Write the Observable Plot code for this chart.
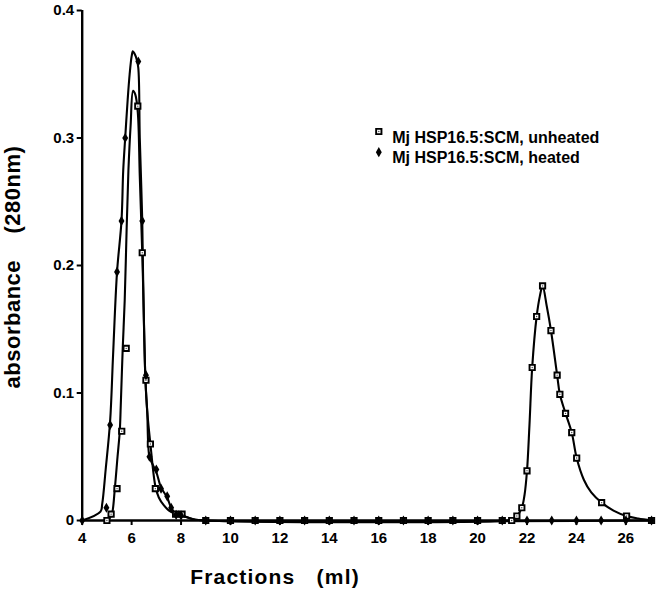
<!DOCTYPE html>
<html>
<head>
<meta charset="utf-8">
<script src="https://cdn.jsdelivr.net/npm/d3@7"></script>
<script src="https://cdn.jsdelivr.net/npm/@observablehq/plot@0.6"></script>
<style>
  html, body { margin: 0; padding: 0; background: #fff; }
  #chart svg { display: block; }
</style>
</head>
<body>
<div id="chart"></div>
<script>
// ---- tick labels ----
const xTicks = [4, 6, 8, 10, 12, 14, 16, 18, 20, 22, 24, 26];
const yTicks = [0, 0.1, 0.2, 0.3, 0.4];
const seriesNames = ["Mj HSP16.5:SCM, unheated", "Mj HSP16.5:SCM, heated"];
const xTitle = "Fractions   (ml)";
const yTitle = "absorbance    (280nm)";

// ---- measured points: unheated (open squares) ----
const unheatedX = [5.0, 5.17, 5.41, 5.6, 5.78, 6.25, 6.43, 6.58, 6.76, 6.96, 7.78, 8.04,
  9, 10, 11, 12, 13, 14, 15, 16, 17, 18, 19, 20, 21,
  21.38, 21.59, 21.79, 22.0, 22.21, 22.39, 22.63, 22.97, 23.22, 23.33, 23.56, 23.81, 24.01, 25.02, 26.03, 27.04];
const unheatedY = [0, 0.005, 0.025, 0.07, 0.135, 0.325, 0.21, 0.11, 0.06, 0.025, 0.005, 0.005,
  0, 0, 0, 0, 0, 0, 0, 0, 0, 0, 0, 0, 0,
  0, 0.0035, 0.01, 0.039, 0.12, 0.16, 0.184, 0.149, 0.114, 0.099, 0.084, 0.069, 0.049, 0.014, 0.0035, 0];

// ---- measured points: heated (filled diamonds) ----
const heatedX = [4, 4.98, 5.13, 5.41, 5.59, 5.74, 6.27, 6.43, 6.58, 6.72, 7.0, 7.19, 7.44, 7.6, 7.8, 8.0,
  9, 10, 11, 12, 13, 14, 15, 16, 17, 18, 19, 20, 21, 22, 23, 24, 25, 26, 27.04];
const heatedY = [0, 0.01, 0.075, 0.195, 0.235, 0.30, 0.36, 0.235, 0.114, 0.05, 0.04, 0.025, 0.019, 0.01, 0.0045, 0.004,
  0, 0, 0, 0, 0, 0, 0, 0, 0, 0, 0, 0, 0, 0, 0, 0, 0, 0, 0];

// ---- fitted curves ----
const unheatedFitX = [5.0, 5.12, 5.21, 5.32, 5.43, 5.52, 5.56, 5.64, 5.72, 5.8, 5.87, 5.96, 6.06, 6.15, 6.25, 6.33, 6.43, 6.48, 6.56, 6.63, 6.76, 6.96, 7.1, 7.3, 7.5, 7.8, 8.04, 8.5, 9,
  21.2, 21.4, 21.59, 21.79, 21.9, 22.0, 22.1, 22.21, 22.39, 22.52, 22.63, 22.8, 22.97, 23.22, 23.33, 23.56, 23.81, 24.01, 24.3, 24.6, 25.02, 25.5, 26.03, 26.5, 27.04];
const unheatedFitY = [0, 0.002, 0.0055, 0.025, 0.05, 0.07, 0.09, 0.135, 0.1725, 0.23, 0.2745, 0.31, 0.337, 0.334, 0.32, 0.27, 0.21, 0.1725, 0.11, 0.086, 0.06, 0.027, 0.018, 0.012, 0.008, 0.005, 0.004, 0.001, 0,
  0, 0.001, 0.0035, 0.01, 0.02, 0.039, 0.075, 0.12, 0.16, 0.176, 0.184, 0.168, 0.149, 0.114, 0.099, 0.084, 0.069, 0.049, 0.032, 0.022, 0.014, 0.0078, 0.0035, 0.0015, 0];
const heatedFitX = [4, 4.74, 4.81, 4.95, 5.13, 5.25, 5.41, 5.59, 5.66, 5.74, 5.84, 5.92, 6.0, 6.05, 6.12, 6.2, 6.27, 6.33, 6.43, 6.48, 6.56, 6.63, 6.72, 6.85, 7.0, 7.19, 7.44, 7.6, 7.8, 8.0, 8.5, 9, 27.04];
const heatedFitY = [0, 0.007, 0.013, 0.04, 0.078, 0.13, 0.195, 0.235, 0.2745, 0.30, 0.33, 0.35, 0.364, 0.368, 0.366, 0.362, 0.355, 0.3, 0.235, 0.1725, 0.11, 0.086, 0.05, 0.044, 0.038, 0.026, 0.018, 0.01, 0.005, 0.004, 0.001, 0, 0];

// ---- tables built from the arrays ----
const unheatedPts = unheatedX.map((x, i) => ({x, y: unheatedY[i]}));
const heatedPts = heatedX.map((x, i) => ({x, y: heatedY[i]}));
const fits = [
  ...unheatedFitX.map((x, i) => ({x, y: unheatedFitY[i], s: seriesNames[0]})),
  ...heatedFitX.map((x, i) => ({x, y: heatedFitY[i], s: seriesNames[1]}))
];

const font = "'Liberation Sans', Arial, Helvetica, sans-serif";

const svg = Plot.plot({
  width: 658,
  height: 591,
  marginLeft: 81.7,
  marginRight: 3,
  marginTop: 10,
  marginBottom: 71,
  style: `font-family: ${font}; font-size: 15px; font-weight: bold; background: #fff; color: #000; white-space: pre;`,
  x: {domain: [4, 27.2]},
  y: {domain: [0, 0.4]},
  marks: [
    Plot.axisX({ticks: xTicks, tickSize: 5, tickPadding: 7, strokeWidth: 2, label: null, fontSize: 15, fontWeight: "bold"}),
    Plot.axisY({ticks: yTicks, tickSize: 5, tickPadding: 3, strokeWidth: 2, label: null, fontSize: 15, fontWeight: "bold",
      tickFormat: d => d === 0 ? "0" : String(d)}),
    Plot.ruleX([4], {strokeWidth: 2.4}),
    Plot.ruleY([0], {strokeWidth: 2.4}),
    Plot.line(fits, {x: "x", y: "y", z: "s", curve: "catmull-rom", stroke: "black", strokeWidth: 2.1}),
    Plot.dot(unheatedPts, {x: "x", y: "y", symbol: "square", r: 3, fill: "white", stroke: "black", strokeWidth: 1.9}),
    Plot.dot(unheatedPts, {x: "x", y: "y", r: 0.7, fill: "#444", stroke: "none"}),
    Plot.dot(heatedPts, {x: "x", y: "y", symbol: "diamond", r: 3.1, fill: "black", stroke: "none"}),
    // legend inside the frame
    Plot.dot([seriesNames[0]], {frameAnchor: "top-left", dx: 296.6, dy: 121, symbol: "square", r: 3, fill: "white", stroke: "black", strokeWidth: 1.9}),
    Plot.dot([seriesNames[0]], {frameAnchor: "top-left", dx: 296.6, dy: 121, r: 0.7, fill: "#444", stroke: "none"}),
    Plot.dot([seriesNames[1]], {frameAnchor: "top-left", dx: 296.6, dy: 141.7, symbol: "diamond", r: 3.1, fill: "black", stroke: "none"}),
    Plot.text([seriesNames[0]], {frameAnchor: "top-left", dx: 310, dy: 121, textAnchor: "start", fontSize: 16, fontWeight: "bold"}),
    Plot.text([seriesNames[1]], {frameAnchor: "top-left", dx: 310, dy: 141.2, textAnchor: "start", fontSize: 16, fontWeight: "bold"})
  ]
});

// axis titles
const s = d3.select(svg);
s.append("text")
  .attr("x", 275).attr("y", 584)
  .attr("letter-spacing", "1.2px")
  .style("font-size", "21px")
  .style("white-space", "pre")
  .text(xTitle);
s.append("text")
  .attr("transform", "translate(20,267) rotate(-90)")
  .attr("text-anchor", "middle")
  .attr("letter-spacing", "0.5px")
  .style("font-size", "22px")
  .style("white-space", "pre")
  .text(yTitle);

document.getElementById("chart").appendChild(svg);
</script>
</body>
</html>
